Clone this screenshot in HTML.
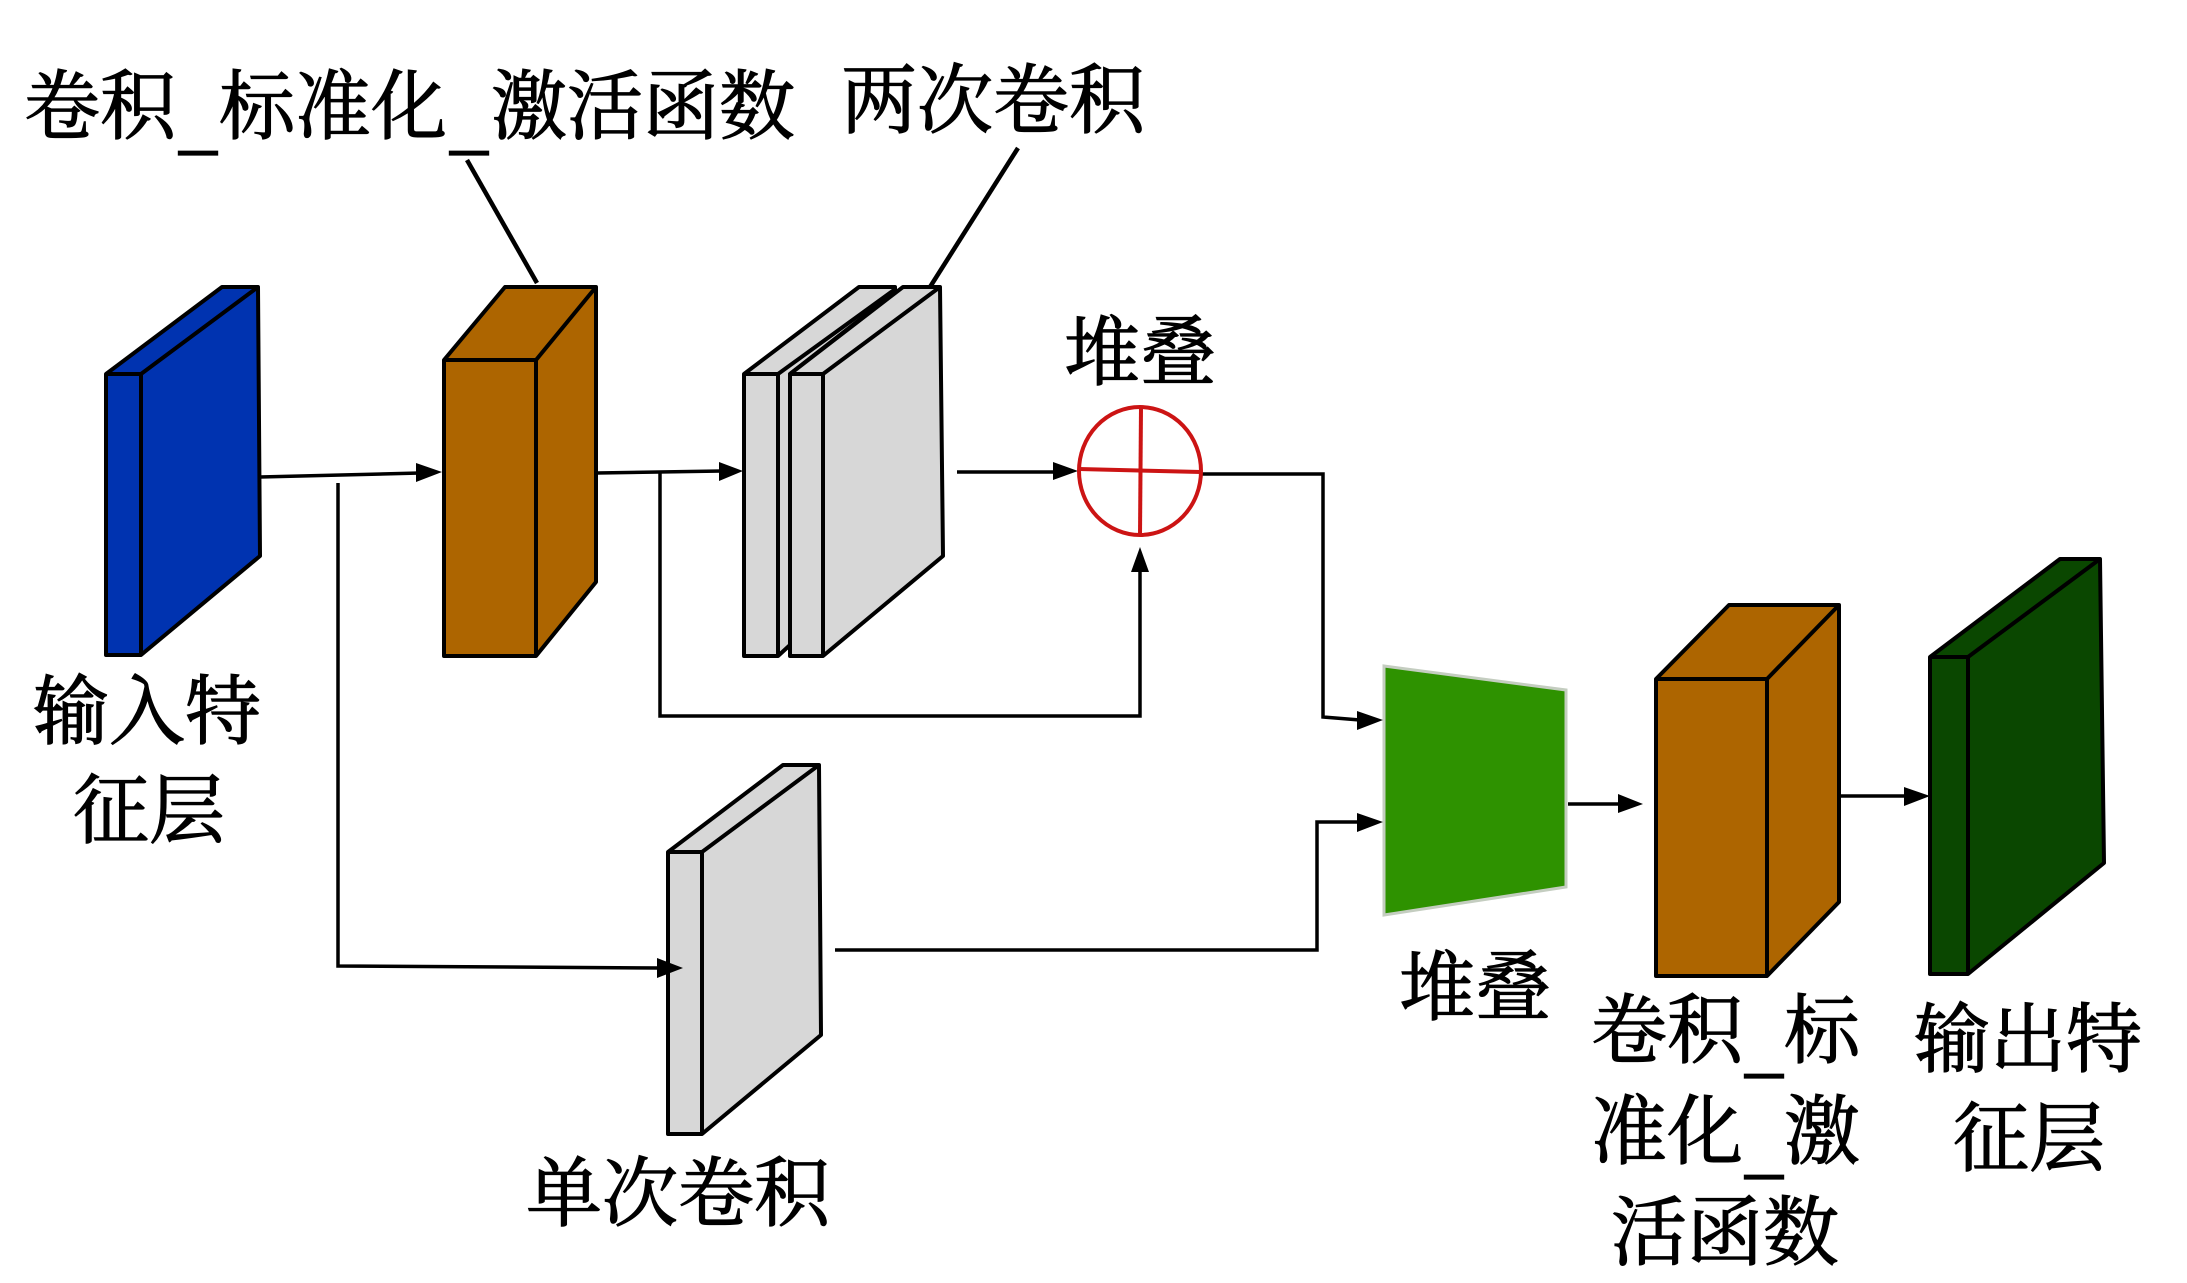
<!DOCTYPE html>
<html><head><meta charset="utf-8"><style>
html,body{margin:0;padding:0;background:#fff}
svg{display:block}
text{font-family:"Liberation Serif","Noto Serif CJK SC",serif;font-size:76px;fill:#000;stroke:#000;stroke-width:1.2px}
</style></head><body>
<svg width="2187" height="1283" viewBox="0 0 2187 1283" xmlns="http://www.w3.org/2000/svg">
<rect width="2187" height="1283" fill="#fff"/>
<g stroke="#000" stroke-width="4" stroke-linejoin="round">
<!-- blue -->
<path d="M106 374L222 287H258L260 556L141 655H106Z" fill="#0033b0"/>
<path d="M106 374H141V655M141 374L258 287" fill="none"/>
<!-- brown 1 -->
<path d="M444 360L505 287H596V582L536 656H444Z" fill="#ad6500"/>
<path d="M444 360H536V656M536 360L596 287" fill="none"/>
<!-- grey pair -->
<path d="M744 374L859 287H895V292L790 374V645L778 656H744Z" fill="#d7d7d7"/>
<path d="M744 374H778V655M778 374L894 290" fill="none"/>
<path d="M790 374L903 287H940L943 556L823 656H790Z" fill="#d7d7d7"/>
<path d="M790 374H823V656M823 374L940 287" fill="none"/>
<!-- grey single -->
<path d="M668 852L783 765H819L821 1035L702 1134H668Z" fill="#d7d7d7"/>
<path d="M668 852H702V1134M702 852L819 765" fill="none"/>
<!-- brown 2 -->
<path d="M1656 679L1729 605H1839V902L1767 976H1656Z" fill="#ad6500"/>
<path d="M1656 679H1767V976M1767 679L1839 605" fill="none"/>
<!-- dark green -->
<path d="M1930 657L2060 559H2100L2104 863L1968 974H1930Z" fill="#0a4700"/>
<path d="M1930 657H1968V974M1968 657L2100 559" fill="none"/>
</g>
<!-- green trapezoid -->
<path d="M1390 669L1572 693V890L1390 918Z" transform="translate(-6 -3)" fill="#2e9200" stroke="#c4cdc0" stroke-width="3"/>
<!-- leaders -->
<g stroke="#000" stroke-width="4.5" fill="none">
<path d="M467 160L537 283"/>
<path d="M1018 148L930 287"/>
</g>
<!-- connectors -->
<g stroke="#000" stroke-width="3.5" fill="none">
<path d="M260 477L420 473"/>
<path d="M597 473L722 471"/>
<path d="M660 473V716H1140V570"/>
<path d="M957 472H1060"/>
<path d="M1201 474H1323V717L1360 720"/>
<path d="M338 483V966L660 968"/>
<path d="M835 950H1317V822H1360"/>
<path d="M1568 804H1620"/>
<path d="M1839 796H1908"/>
</g>
<g fill="#000">
<path d="M442 472L416 463V482Z"/>
<path d="M743 471L719 462V481Z"/>
<path d="M1078 471L1053 462V480Z"/>
<path d="M1140 547L1131 572H1149Z"/>
<path d="M1383 720L1357 711V730Z"/>
<path d="M1383 822L1357 813V832Z"/>
<path d="M683 968L657 958V978Z"/>
<path d="M1643 804L1618 794V813Z"/>
<path d="M1930 796L1904 787V806Z"/>
</g>
<!-- adder -->
<g stroke="#cc1414" stroke-width="4" fill="none">
<ellipse cx="1140" cy="471" rx="61" ry="64" fill="#fff"/>
<path d="M1141 407L1140 535"/>
<path d="M1079 469L1201 472"/>
</g>
<!-- labels -->
<text x="24" y="133">卷积<tspan x="179" dy="12">_</tspan><tspan x="219" dy="-12">标准化</tspan><tspan x="450" dy="12">_</tspan><tspan x="491" dy="-12">激活函数</tspan></text>
<text x="841" y="127">两次卷积</text>
<text x="1064" y="379">堆叠</text>
<text x="33" y="738">输入特</text>
<text x="73" y="837">征层</text>
<text x="526" y="1220">单次卷积</text>
<text x="1399" y="1014">堆叠</text>
<text x="1591" y="1057">卷积<tspan x="1745" dy="11">_</tspan><tspan x="1784" dy="-11">标</tspan></text>
<text x="1591" y="1158">准化<tspan x="1745" dy="11">_</tspan><tspan x="1784" dy="-11">激</tspan></text>
<text x="1611" y="1259">活函数</text>
<text x="1914" y="1066">输出特</text>
<text x="1953" y="1165">征层</text>
</svg>
</body></html>
